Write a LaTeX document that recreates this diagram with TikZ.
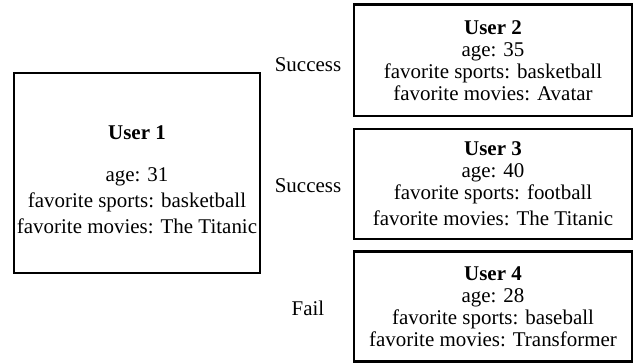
\documentclass[tikz,border=0pt]{standalone}
\usepackage{fontspec}
\setmainfont{Liberation Serif}
\begin{document}
\begin{tikzpicture}
\tikzstyle{userbox}=[draw, rectangle, line width=2pt, align=center, inner sep=0pt, font=\fontsize{14.9}{15.6}\selectfont]
\tikzstyle{usertext}=[align=center, inner sep=0pt, font=\fontsize{14.9}{18.5}\selectfont]
\tikzstyle{result}=[inner sep=0pt, font=\fontsize{14.9}{18}\selectfont]

\useasboundingbox (0,0) rectangle (16.025,9.075);

% Define users
\node[userbox, minimum width=6.15cm, minimum height=5.0cm] (user1) at (3.425,4.75) {};
\node[usertext] (user1txt) at ([yshift=-0.175cm]user1.center) {\textbf{User 1}\\[0.4cm] age: 31\\ favorite sports: basketball\\ favorite movies: The Titanic};
\node[userbox, minimum width=6.95cm, minimum height=2.78cm] (user2) at (12.325,7.5625) {\textbf{User 2}\\ age: 35\\ favorite sports: basketball\\ favorite movies: Avatar};
\node[userbox, minimum width=6.95cm, minimum height=2.75cm] (user3) at (12.325,4.475) {\textbf{User 3}\\ age: 40\\ favorite sports: football\\[0.1cm] favorite movies: The Titanic};
\node[userbox, minimum width=6.95cm, minimum height=2.73cm] (user4) at (12.325,1.4125) {\textbf{User 4}\\ age: 28\\ favorite sports: baseball\\ favorite movies: Transformer};

% Match results
\node[result] (res2) at (7.7,7.45) {Success};
\node[result] (res3) at (7.7,4.425) {Success};
\node[result] (res4) at (7.7,1.375) {Fail};
\end{tikzpicture}
\end{document}
